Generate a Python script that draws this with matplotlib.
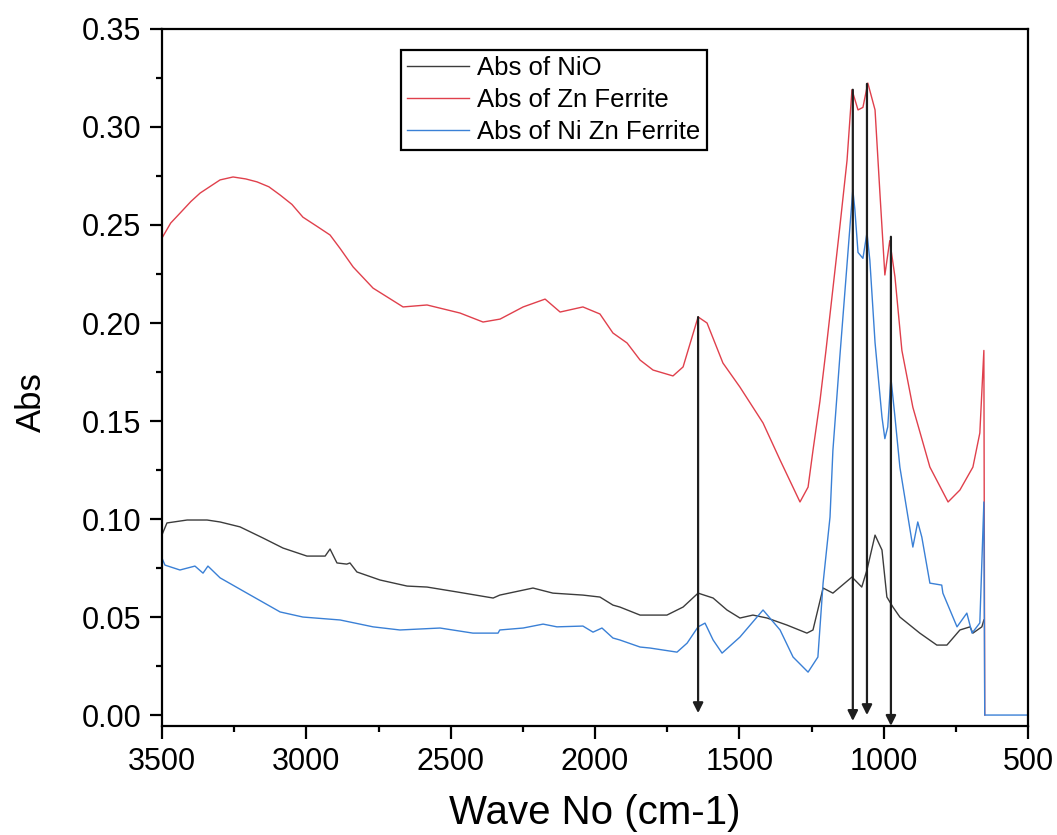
import matplotlib
matplotlib.use("Agg")
import matplotlib.pyplot as plt
from matplotlib.ticker import MultipleLocator, FormatStrFormatter

plt.rcParams['font.family'] = ['Liberation Sans', 'DejaVu Sans']

# ---- data ----
nio_x = [3500, 3483, 3413, 3344, 3299, 3230, 3150, 3081, 2998, 2935, 2918, 2894, 2860, 2849,
         2825, 2745, 2651, 2582, 2478, 2353, 2330, 2215, 2146, 2042, 1983, 1938, 1914, 1844,
         1751, 1695, 1643, 1591, 1543, 1498, 1453, 1404, 1335, 1266, 1245, 1210, 1176, 1110,
         1076, 1058, 1030, 1006, 989, 968, 944, 875, 816, 781, 736, 701, 691, 660, 653]
nio_y = [0.092, 0.098, 0.0995, 0.0995, 0.0985, 0.096, 0.0903, 0.0852, 0.0811, 0.0811, 0.0847,
         0.0776, 0.0770, 0.0776, 0.073, 0.0689, 0.0658, 0.0653, 0.0628, 0.0597, 0.0612, 0.0648,
         0.0622, 0.0612, 0.0602, 0.0561, 0.0551, 0.051, 0.051, 0.0551, 0.0622, 0.0597, 0.0536,
         0.0495, 0.051, 0.0495, 0.0459, 0.0418, 0.0434, 0.0648, 0.0622, 0.0704, 0.0653, 0.074,
         0.0918, 0.0842, 0.0602, 0.0551, 0.05, 0.0418, 0.0357, 0.0357, 0.0434, 0.045, 0.0418,
         0.045, 0.0485]

znf_x = [3500, 3470, 3438, 3400, 3368, 3330, 3299, 3254, 3210, 3171, 3130, 3091, 3050, 3012,
         2960, 2918, 2883, 2838, 2769, 2665, 2582, 2468, 2388, 2329, 2249, 2173, 2121, 2042,
         1983, 1938, 1889, 1844, 1799, 1730, 1695, 1643, 1612, 1557, 1498, 1418, 1359, 1290,
         1262, 1245, 1221, 1200, 1152, 1127, 1110, 1089, 1072, 1055, 1030, 1013, 996, 979, 961,
         937, 899, 840, 777, 736, 691, 667, 653, 650]
znf_y = [0.2434, 0.251, 0.256, 0.262, 0.2663, 0.270, 0.273, 0.2745, 0.2735, 0.272, 0.2695,
         0.2653, 0.2605, 0.254, 0.249, 0.2449, 0.238, 0.2286, 0.2178, 0.2082, 0.2092, 0.2051,
         0.2005, 0.202, 0.2082, 0.2122, 0.2056, 0.2082, 0.2046, 0.1949, 0.1898, 0.1811, 0.176,
         0.173, 0.1776, 0.2031, 0.2, 0.1796, 0.1673, 0.149, 0.1301, 0.1087, 0.1163, 0.135, 0.16,
         0.186, 0.249, 0.283, 0.319, 0.3087, 0.310, 0.3224, 0.3087, 0.266, 0.2245, 0.242,
         0.2235, 0.186, 0.157, 0.1265, 0.1087, 0.1148, 0.1265, 0.1439, 0.186, 0.0]

nizn_x = [3500, 3490, 3438, 3386, 3358, 3341, 3299, 3206, 3091, 3012, 2883, 2769, 2676, 2537,
          2423, 2336, 2330, 2249, 2180, 2132, 2042, 2007, 1976, 1938, 1914, 1844, 1810, 1716,
          1681, 1643, 1619, 1591, 1560, 1498, 1418, 1359, 1314, 1262, 1228, 1210, 1186, 1176,
          1152, 1117, 1107, 1100, 1089, 1072, 1058, 1048, 1030, 1006, 996, 986, 975, 961, 944,
          899, 882, 868, 840, 799, 795, 746, 712, 694, 667, 653, 650, 500]
nizn_y = [0.080, 0.0765, 0.074, 0.076, 0.0724, 0.076, 0.070, 0.0622, 0.0526, 0.050, 0.0485,
          0.045, 0.0434, 0.0444, 0.0418, 0.0418, 0.0434, 0.0444, 0.0464, 0.045, 0.0454, 0.0423,
          0.0444, 0.0393, 0.0383, 0.0347, 0.0342, 0.0321, 0.0367, 0.045, 0.0469, 0.0383, 0.0316,
          0.0398, 0.0536, 0.0434, 0.0296, 0.0219, 0.0296, 0.0673, 0.101, 0.135, 0.1827, 0.249,
          0.268, 0.258, 0.236, 0.233, 0.246, 0.232, 0.19, 0.152, 0.141, 0.147, 0.172, 0.152,
          0.1265, 0.0857, 0.0985, 0.0908, 0.0673, 0.0663, 0.0622, 0.045, 0.052, 0.0418, 0.047,
          0.1087, 0.0, 0.0]

labels = ["Abs of NiO", "Abs of Zn Ferrite", "Abs of Ni Zn Ferrite"]
colors = ["#3c3c3c", "#e0404c", "#3a80d6"]

arrow_x = [1643, 1107, 1058, 975]
arrow_top = [0.203, 0.319, 0.322, 0.244]
arrow_tip = [0.001, -0.003, 0.0, -0.0055]

# ---- figure ----
fig = plt.figure(figsize=(10.57, 8.35), dpi=100)
ax = fig.add_axes([0.1533, 0.1305, 0.8193, 0.8348])

for xs, ys, lab, c in zip([nio_x, znf_x, nizn_x], [nio_y, znf_y, nizn_y], labels, colors):
    ax.plot(xs, ys, color=c, lw=1.0, label=lab)

for xa, yt, yb in zip(arrow_x, arrow_top, arrow_tip):
    ax.annotate("", xy=(xa, yb), xytext=(xa, yt),
                arrowprops=dict(arrowstyle='-|>', color='#1e1e1e', lw=1.6,
                                mutation_scale=15, shrinkA=0, shrinkB=0))

ax.set_xlim(3500, 500)
ax.set_ylim(-0.0056, 0.35)
ax.xaxis.set_major_locator(MultipleLocator(500))
ax.xaxis.set_minor_locator(MultipleLocator(250))
ax.yaxis.set_major_locator(MultipleLocator(0.05))
ax.yaxis.set_minor_locator(MultipleLocator(0.025))
ax.yaxis.set_major_formatter(FormatStrFormatter('%.2f'))

ax.tick_params(which='major', direction='out', length=9, width=1.6, labelsize=22, pad=6)
ax.tick_params(which='minor', direction='out', length=4.5, width=1.6)
for s in ax.spines.values():
    s.set_linewidth(1.6)

ax.set_xlabel("Wave No (cm-1)", fontsize=29, labelpad=12)
ax.set_ylabel("Abs", fontsize=25)
ax.yaxis.set_label_coords(-0.132, 0.465)

leg = ax.legend(loc='upper left', bbox_to_anchor=(0.276, 0.970), fontsize=18.5,
                frameon=True, fancybox=False, edgecolor='black', framealpha=1,
                handlelength=2.4, handletextpad=0.3, borderpad=0.25,
                labelspacing=0.3, borderaxespad=0)
leg.get_frame().set_linewidth(1.6)

fig.savefig("out.png", dpi=100)
